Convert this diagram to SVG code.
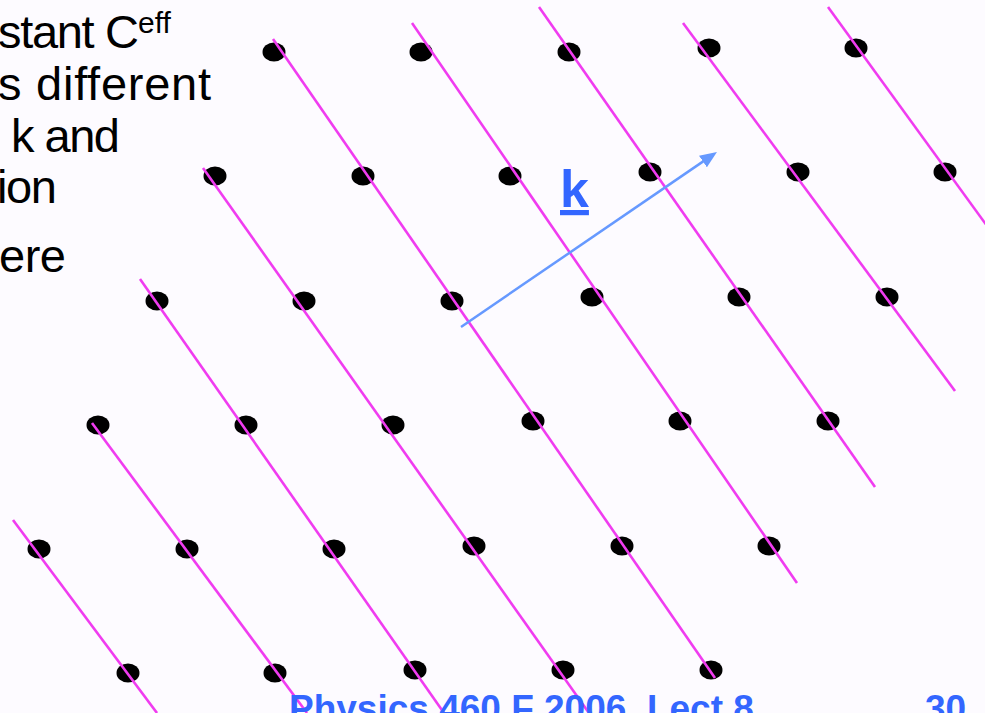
<svg xmlns="http://www.w3.org/2000/svg" width="985" height="713" viewBox="0 0 985 713">
<style>
.txt{font-family:"Liberation Sans",Arial,sans-serif;fill:#000;font-size:47px}
.sup{font-family:"Liberation Sans",Arial,sans-serif;fill:#000;font-size:30px}
.foot{font-family:"Liberation Sans",Arial,sans-serif;fill:#3366FF;font-size:37px;font-weight:bold}
.plane{stroke:#F03CF0;stroke-width:2.6;fill:none}
.atom{fill:#000}
</style>
<defs>
<marker id="ah" markerUnits="userSpaceOnUse" markerWidth="17" markerHeight="14" refX="7" refY="7" orient="auto">
<path d="M0,0 L17,7 L0,14 z" fill="#6699FF"/>
</marker>
</defs>
<rect width="985" height="713" fill="#FDFBFF"/>
<g id="text">
<text class="txt" x="139" y="48" text-anchor="end" textLength="141" lengthAdjust="spacing">stant C</text>
<text class="sup" x="138" y="33">eff</text>
<text class="txt" x="211" y="100" text-anchor="end" textLength="213" lengthAdjust="spacing">s different</text>
<text class="txt" x="120" y="152" text-anchor="end" textLength="109" lengthAdjust="spacing">k and</text>
<text class="txt" x="57" y="203" text-anchor="end" textLength="60" lengthAdjust="spacing">ion</text>
<text class="txt" x="66" y="272" text-anchor="end" textLength="67" lengthAdjust="spacing">ere</text>
</g>
<g id="atoms">
<ellipse class="atom" cx="274" cy="52" rx="11.5" ry="9.5"/>
<ellipse class="atom" cx="421" cy="52" rx="11.5" ry="9.5"/>
<ellipse class="atom" cx="569" cy="52" rx="11.5" ry="9.5"/>
<ellipse class="atom" cx="709" cy="48" rx="11.5" ry="9.5"/>
<ellipse class="atom" cx="856" cy="48" rx="11.5" ry="9.5"/>
<ellipse class="atom" cx="215" cy="176" rx="11.5" ry="9.5"/>
<ellipse class="atom" cx="363" cy="176" rx="11.5" ry="9.5"/>
<ellipse class="atom" cx="510" cy="176" rx="11.5" ry="9.5"/>
<ellipse class="atom" cx="650" cy="172" rx="11.5" ry="9.5"/>
<ellipse class="atom" cx="798" cy="172" rx="11.5" ry="9.5"/>
<ellipse class="atom" cx="945" cy="172" rx="11.5" ry="9.5"/>
<ellipse class="atom" cx="157" cy="301" rx="11.5" ry="9.5"/>
<ellipse class="atom" cx="304" cy="301" rx="11.5" ry="9.5"/>
<ellipse class="atom" cx="452" cy="301" rx="11.5" ry="9.5"/>
<ellipse class="atom" cx="592" cy="297" rx="11.5" ry="9.5"/>
<ellipse class="atom" cx="739" cy="297" rx="11.5" ry="9.5"/>
<ellipse class="atom" cx="887" cy="297" rx="11.5" ry="9.5"/>
<ellipse class="atom" cx="98" cy="425" rx="11.5" ry="9.5"/>
<ellipse class="atom" cx="246" cy="425" rx="11.5" ry="9.5"/>
<ellipse class="atom" cx="393" cy="425" rx="11.5" ry="9.5"/>
<ellipse class="atom" cx="533" cy="421" rx="11.5" ry="9.5"/>
<ellipse class="atom" cx="680" cy="421" rx="11.5" ry="9.5"/>
<ellipse class="atom" cx="828" cy="421" rx="11.5" ry="9.5"/>
<ellipse class="atom" cx="39" cy="549" rx="11.5" ry="9.5"/>
<ellipse class="atom" cx="187" cy="549" rx="11.5" ry="9.5"/>
<ellipse class="atom" cx="334" cy="549" rx="11.5" ry="9.5"/>
<ellipse class="atom" cx="474" cy="546" rx="11.5" ry="9.5"/>
<ellipse class="atom" cx="622" cy="546" rx="11.5" ry="9.5"/>
<ellipse class="atom" cx="769" cy="546" rx="11.5" ry="9.5"/>
<ellipse class="atom" cx="128" cy="673" rx="11.5" ry="9.5"/>
<ellipse class="atom" cx="275" cy="673" rx="11.5" ry="9.5"/>
<ellipse class="atom" cx="415" cy="670" rx="11.5" ry="9.5"/>
<ellipse class="atom" cx="563" cy="670" rx="11.5" ry="9.5"/>
<ellipse class="atom" cx="711" cy="670" rx="11.5" ry="9.5"/>
</g>
<g id="planes">
<line class="plane" x1="13" y1="520" x2="157" y2="713"/>
<line class="plane" x1="92" y1="423" x2="307" y2="713"/>
<line class="plane" x1="140" y1="279" x2="444" y2="713"/>
<line class="plane" x1="203" y1="168" x2="589" y2="713"/>
<line class="plane" x1="273" y1="39" x2="715" y2="678"/>
<line class="plane" x1="412" y1="23" x2="797" y2="583"/>
<line class="plane" x1="539" y1="7" x2="875" y2="487"/>
<line class="plane" x1="683" y1="23" x2="955" y2="391"/>
<line class="plane" x1="828" y1="7" x2="990" y2="230"/>
</g>
<g id="k-vector">
<line x1="461" y1="327" x2="708.7" y2="157.6" stroke="#6699FF" stroke-width="2.5" marker-end="url(#ah)"/>
<text x="560" y="207" font-family="Liberation Sans, Arial, sans-serif" font-size="52" font-weight="bold" fill="#3366FF" text-decoration="underline">k</text>
</g>
<g id="footer">
<text class="foot" x="289" y="721">Physics 460 F 2006, Lect 8</text>
<text class="foot" x="925" y="721">30</text>
</g>
</svg>
